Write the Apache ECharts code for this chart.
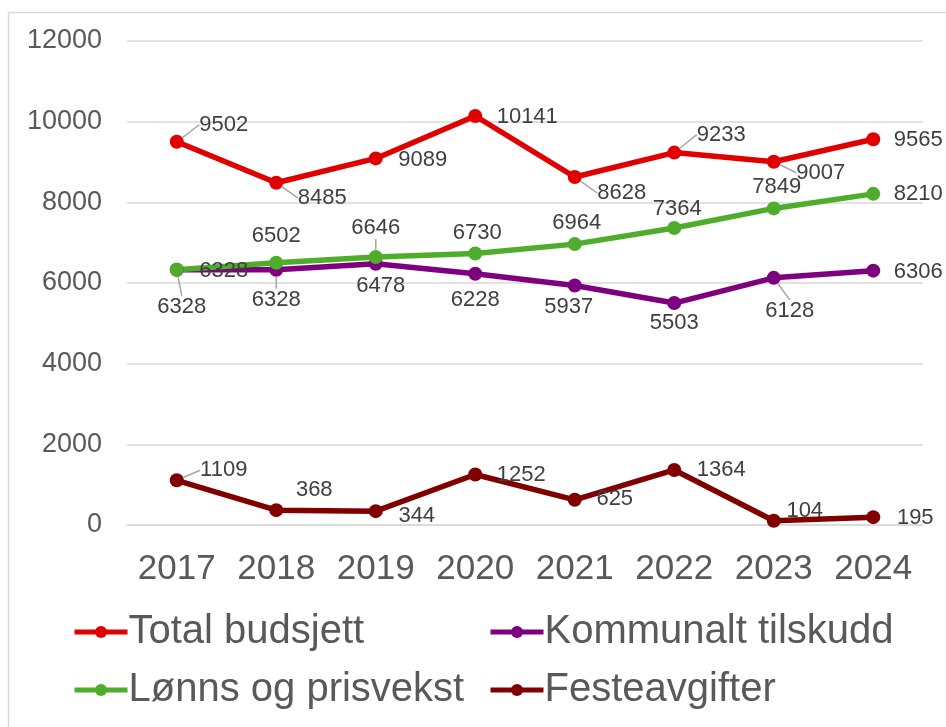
<!DOCTYPE html>
<html>
<head>
<meta charset="utf-8">
<script src="https://cdn.jsdelivr.net/npm/echarts@6/dist/echarts.min.js"></script>
<style>
  html, body { margin: 0; padding: 0; background: #fff; }
  #main { width: 946px; height: 727px; }
</style>
</head>
<body>
<div id="main"></div>
<script>
// data
var years = ['2017', '2018', '2019', '2020', '2021', '2022', '2023', '2024'];
var totalBudsjett = [9502, 8485, 9089, 10141, 8628, 9233, 9007, 9565];
var kommunaltTilskudd = [6328, 6328, 6478, 6228, 5937, 5503, 6128, 6306];
var lonnsPrisvekst = [6328, 6502, 6646, 6730, 6964, 7364, 7849, 8210];
var festeavgifter = [1109, 368, 344, 1252, 625, 1364, 104, 195];
var yTicks = [0, 2000, 4000, 6000, 8000, 10000, 12000];

// label placement (offset of label centre from the point, in px)
var labelOffsets = [
    [[47, -17], [46, 15], [47, 2], [52, 1], [47, 16], [47, -18], [47, 11], [45, 1]],
    [[5, 37], [0, 30], [5, 22], [0, 26], [-6, 21], [0, 20], [16, 33], [45, 1]],
    [[47, 1], [0, -27], [0, -29], [2, -21], [2, -21], [3, -19], [3, -21], [45, 0]],
    [[47, -10], [38, -20], [41, 5], [46, 0], [40, -1], [47, 0], [31, -10], [42, 1]]
];
// callout leader lines (relative to the point)
var leaders = {
    '0-0': [[0, 0], [2, -20], [14, -20]],
    '0-1': [[0, 0], [1, 13], [14, 13]],
    '0-4': [[0, 0], [1, 16], [15, 16]],
    '0-5': [[0, 0], [2, -19], [14, -19]],
    '0-6': [[0, 0], [3, 10], [15, 10]],
    '1-0': [[0, 0], [5, 18]],
    '1-1': [[0, 0], [0, 14]],
    '1-6': [[0, 0], [16, 16]],
    '2-2': [[0, -2], [0, -12]],
    '3-0': [[0, 0], [2, -10], [13, -10]]
};

var FONT = "'Liberation Sans', Arial, sans-serif";

function buildData(values, si){
    return values.map(function(v, i){
        return {value: v, labelLine: {show: !!leaders[si + '-' + i]}};
    });
}

function makeSeries(name, values, color, si){
    return {
        name: name,
        type: 'line',
        data: buildData(values, si),
        symbol: 'circle',
        symbolSize: 14,
        itemStyle: {color: color},
        lineStyle: {color: color, width: 5.5},
        label: {
            show: true,
            color: '#404040',
            fontSize: 22,
            fontFamily: FONT
        },
        labelLine: {
            show: true,
            showAbove: true,
            lineStyle: {color: '#a6a6a6', width: 1.5}
        },
        labelLayout: function(p){
            var off = labelOffsets[p.seriesIndex][p.dataIndex];
            var cx = p.rect.x + p.rect.width / 2;
            var cy = p.rect.y + p.rect.height / 2;
            var res = {x: cx + off[0], y: cy + off[1], align: 'center', verticalAlign: 'middle'};
            var ld = leaders[p.seriesIndex + '-' + p.dataIndex];
            if(ld){
                res.labelLinePoints = ld.map(function(pt){ return [cx + pt[0], cy + pt[1]]; });
            }
            return res;
        },
        emphasis: {disabled: true},
        animation: false
    };
}

function legendBlock(left, names){
    return {
        left: left,
        top: 610,
        orient: 'vertical',
        padding: 0,
        itemGap: 14,
        itemWidth: 53,
        itemHeight: 15,
        lineStyle: {width: 5},
        textStyle: {fontSize: 40, color: '#595959', fontFamily: FONT, lineHeight: 44, padding: [0, 0, 0, -4]},
        data: names
    };
}

var myChart = echarts.init(document.getElementById('main'));
var option = {
    backgroundColor: '#fff',
    textStyle: {fontFamily: FONT},
    graphic: [{
        type: 'rect',
        silent: true,
        shape: {x: 8.5, y: 12.5, width: 1200, height: 1200},
        style: {fill: 'none', stroke: '#d9d9d9', lineWidth: 1.5}
    }],
    grid: {left: 127, right: 23, top: 41, bottom: 202},
    legend: [
        legendBlock(72, ['Total budsjett', 'Lønns og prisvekst']),
        legendBlock(488, ['Kommunalt tilskudd', 'Festeavgifter'])
    ],
    xAxis: {
        type: 'category',
        data: years,
        boundaryGap: true,
        axisLine: {lineStyle: {color: '#d9d9d9', width: 1.5}},
        axisTick: {show: false},
        axisLabel: {fontSize: 35, color: '#595959', margin: 27, interval: 0, fontFamily: FONT}
    },
    yAxis: {
        type: 'value',
        min: yTicks[0],
        max: yTicks[yTicks.length - 1],
        interval: 2000,
        axisLine: {show: false},
        axisTick: {show: false},
        splitLine: {lineStyle: {color: '#d9d9d9', width: 1.5}},
        axisLabel: {
            fontSize: 27, color: '#595959', margin: 25, fontFamily: FONT,
            formatter: function(v){ return String(v); }
        }
    },
    series: [
        makeSeries('Total budsjett', totalBudsjett, '#e00000', 0),
        makeSeries('Kommunalt tilskudd', kommunaltTilskudd, '#7f007f', 1),
        makeSeries('Lønns og prisvekst', lonnsPrisvekst, '#4ead2a', 2),
        makeSeries('Festeavgifter', festeavgifter, '#800000', 3)
    ]
};
myChart.setOption(option);
</script>
</body>
</html>
